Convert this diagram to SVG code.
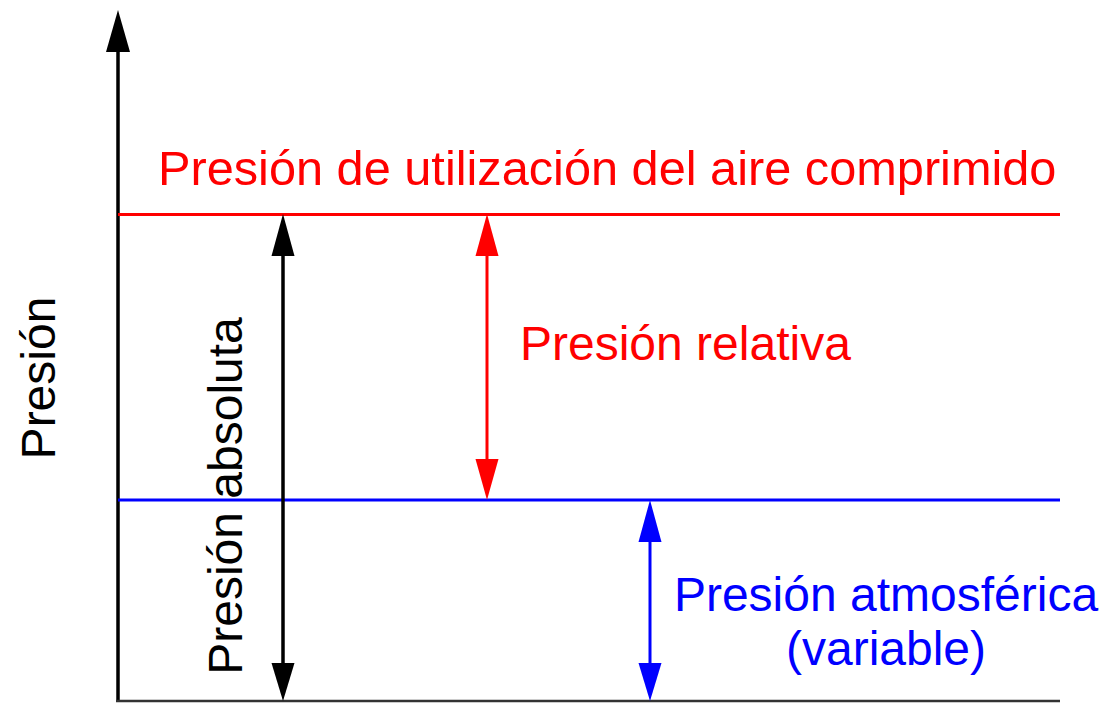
<svg xmlns="http://www.w3.org/2000/svg" width="1107" height="703" viewBox="0 0 1107 703">
<style>
text{font-family:"Liberation Sans",Arial,sans-serif;font-size:48px}
.k{fill:#000}.r{fill:#ff0000}.b{fill:#0000ff}
.sk{stroke:#000;stroke-width:3.5;fill:none}
.sr{stroke:#ff0000;stroke-width:3;fill:none}
.sb{stroke:#0000ff;stroke-width:3;fill:none}
</style>
<rect width="1107" height="703" fill="#fff"/>
<g id="axes">
<line x1="118" y1="40" x2="118" y2="702" class="sk"/>
<line x1="116" y1="701" x2="1060" y2="701" stroke="#333" stroke-width="2.5"/>
<polygon points="118,10 130,52 106,52" class="k"/>
</g>
<g id="levels">
<line x1="118" y1="214.5" x2="1060" y2="214.5" class="sr"/>
<line x1="118" y1="500" x2="1060" y2="500" class="sb"/>
</g>
<g id="connectors">
<g id="abs-arrow">
<line x1="283" y1="250" x2="283" y2="668" class="sk"/>
<polygon points="283,214 294.5,256 271.5,256" class="k"/>
<polygon points="283,701 294.5,663 271.5,663" class="k"/>
</g>
<g id="rel-arrow">
<line x1="487" y1="250" x2="487" y2="465" class="sr"/>
<polygon points="487,214 498.5,256 475.5,256" class="r"/>
<polygon points="487,500 498.5,459 475.5,459" class="r"/>
</g>
<g id="atm-arrow">
<line x1="650" y1="535" x2="650" y2="668" class="sb"/>
<polygon points="650,500 661.5,542 638.5,542" class="b"/>
<polygon points="650,701 661.5,663 638.5,663" class="b"/>
</g>
</g>
<g id="label-uso"><text x="158" y="185" class="r" style="font-size:48.7px">Presión de utilización del aire comprimido</text></g>
<g id="label-relativa"><text x="520" y="360" class="r">Presión relativa</text></g>
<g id="label-atm"><text x="886" y="611" class="b" text-anchor="middle">Presión atmosférica</text>
<text x="886" y="665" class="b" text-anchor="middle">(variable)</text></g>
<g id="label-abs"><text transform="translate(242,496) rotate(-90)" class="k" text-anchor="middle">Presión absoluta</text></g>
<g id="label-presion"><text transform="translate(55,378) rotate(-90)" class="k" text-anchor="middle">Presión</text></g>
</svg>
